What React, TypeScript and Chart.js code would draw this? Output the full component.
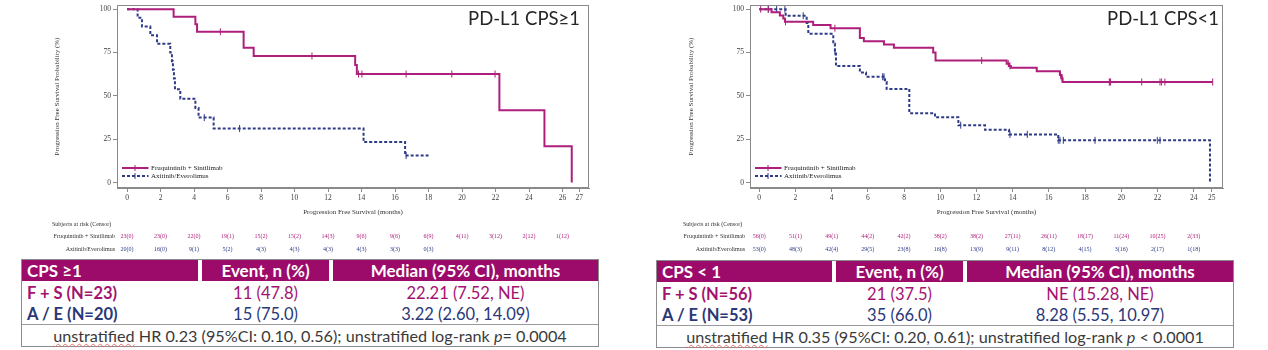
import React, { useEffect, useRef } from 'react';
import { Chart, registerables } from 'chart.js';
Chart.register(...registerables);

// ---------- Data: CPS >= 1 ----------
const leftFsTimes = [0, 2.78, 4.08, 4.18, 6.96, 7.56, 13.62, 13.72, 22.23, 24.92, 26.55];
const leftFsSurv = [100, 95.65, 91.3, 86.96, 77.8, 73.0, 67.8, 62.6, 41.7, 20.9, 0];
const leftFsCensor = [5.57, 11.04, 13.82, 14.02, 16.66, 19.39, 21.97];
const leftAeTimes = [0, 0.63, 0.89, 1.39, 1.79, 2.58, 2.68, 2.74, 2.8, 2.86, 3.18, 4.08, 4.27, 5.17, 14.12, 16.6, 18.0];
const leftAeSurv = [100, 95, 90, 85, 80, 75, 70, 65, 60, 53.8, 48.3, 43, 37.5, 31.2, 23.4, 15.6, 15.6];
const leftAeCensor = [4.61, 6.72, 16.66];
const leftXTicks = [0, 2, 4, 6, 8, 10, 12, 14, 16, 18, 20, 22, 24, 26, 27];
const leftRiskFsTimes = [0, 2, 4, 6, 8, 10, 12, 14, 16, 18, 20, 22, 24, 26];
const leftRiskFs = ['23(0)', '23(0)', '22(0)', '19(1)', '15(2)', '15(2)', '14(3)', '9(6)', '9(6)', '6(9)', '4(11)', '3(12)', '2(12)', '1(12)'];
const leftRiskAeTimes = [0, 2, 4, 6, 8, 10, 12, 14, 16, 18];
const leftRiskAe = ['20(0)', '16(0)', '9(1)', '5(2)', '4(3)', '4(3)', '4(3)', '4(3)', '3(3)', '0(3)'];

// ---------- Data: CPS < 1 ----------
const rightFsTimes = [0, 0.68, 1.14, 1.33, 1.42, 2.98, 3.94, 5.56, 5.78, 6.89, 7.44, 9.61, 9.74, 13.67, 13.8, 13.9, 15.33, 16.61, 16.7, 16.76, 25.05];
const rightFsSurv = [100, 98.2, 96.4, 94.6, 92.7, 90.9, 89.0, 83.4, 81.5, 79.7, 77.8, 75.0, 70.4, 68.6, 67.3, 66.2, 64.2, 62.0, 60.0, 58.0, 58.0];
const rightFsCensor = [0.08, 0.5, 1.45, 4.18, 12.29, 13.76, 13.85, 16.65, 16.73, 19.34, 19.37, 19.41, 21.13, 22.14, 22.23, 22.41, 25.05];
const rightAeTimes = [0, 1.46, 2.62, 2.71, 4.09, 4.18, 4.24, 5.56, 5.9, 6.95, 7.04, 8.29, 9.71, 11.0, 12.47, 13.8, 16.52, 24.9];
const rightAeSurv = [100, 96.2, 92, 85.8, 80, 75.5, 67.2, 63.5, 61, 58, 54, 40, 37.7, 33.1, 30.5, 27.8, 24.4, 0];
const rightAeCensor = [0.5, 0.96, 1.42, 2.43, 4.18, 6.82, 6.89, 11.13, 13.85, 14.81, 16.52, 16.61, 16.8, 18.55, 21.99, 22.14];
const rightXTicks = [0, 2, 4, 6, 8, 10, 12, 14, 16, 18, 20, 22, 24, 25];
const rightRiskTimes = [0, 2, 4, 6, 8, 10, 12, 14, 16, 18, 20, 22, 24];
const rightRiskFs = ['56(0)', '51(1)', '49(1)', '44(2)', '42(2)', '38(2)', '38(2)', '27(11)', '26(11)', '18(17)', '11(24)', '10(25)', '2(33)'];
const rightRiskAe = ['53(0)', '48(3)', '42(4)', '29(5)', '23(8)', '16(8)', '13(9)', '9(11)', '8(12)', '4(15)', '3(16)', '2(17)', '1(18)'];

const yTicks = [0, 25, 50, 75, 100];
const seriesNames = ['Fruquintinib + Sintilimab', 'Axitinib/Everolimus'];

// ---------- Table data ----------
const leftHeaders = ['CPS \u22651', 'Event, n (%)', 'Median (95% CI), months'];
const leftRowLabels = ['F + S (N=23)', 'A / E (N=20)'];
const leftEvents = ['11 (47.8)', '15 (75.0)'];
const leftMedians = ['22.21 (7.52, NE)', '3.22 (2.60, 14.09)'];
const leftHR = 'HR 0.23 (95%CI: 0.10, 0.56); unstratified log-rank ';
const leftP = '= 0.0004';
const rightHeaders = ['CPS < 1', 'Event, n (%)', 'Median (95% CI), months'];
const rightRowLabels = ['F + S (N=56)', 'A / E (N=53)'];
const rightEvents = ['21 (37.5)', '35 (66.0)'];
const rightMedians = ['NE (15.28, NE)', '8.28 (5.55, 10.97)'];
const rightHR = 'HR 0.35 (95%CI: 0.20, 0.61); unstratified log-rank ';
const rightP = ' < 0.0001';

// ---------- Styles ----------
const MAG = '#AE1F7C';
const NAVY = '#2E3B87';
const AXIS = '#8a8a8a';
const HEAD_BG = '#9C0A6A';
const TXT_MAG = '#A3126F';
const TXT_NAVY = '#2A3878';
const SERIF = '"Liberation Serif", "DejaVu Serif", serif';
const SANS = 'Lato, "Open Sans", sans-serif';

function survAt(times: number[], surv: number[], t: number) {
  let v = surv[0];
  for (let i = 0; i < times.length; i++) if (times[i] <= t) v = surv[i];
  return v;
}

type Spec = {
  left: number; width: number; height: number; yAxisWidth: number; padRight: number;
  xMin: number; xMax: number; xTicks: number[];
  fsT: number[]; fsS: number[]; fsC: number[]; aeT: number[]; aeS: number[]; aeC: number[];
  title: string; titleInset: number; yTitleX: number;
  riskHeaderX: number; riskLabelRight: number;
  riskFsT: number[]; riskFs: string[]; riskAeT: number[]; riskAe: string[];
};

function makeConfig(s: Spec): any {
  const decor = {
    id: 'decor',
    afterDraw(chart: any) {
      const ctx = chart.ctx as CanvasRenderingContext2D;
      const { left, right, top, bottom } = chart.chartArea;
      const xs = chart.scales.x;
      ctx.save();
      // frame
      ctx.strokeStyle = AXIS; ctx.lineWidth = 1; ctx.setLineDash([]);
      ctx.strokeRect(Math.round(left) + 0.5, Math.round(top) + 0.5, Math.round(right - left) - 1, Math.round(bottom - top) - 1);
      // panel title
      ctx.fillStyle = '#262626'; ctx.font = `18.5px ${SANS}`; ctx.textAlign = 'right'; ctx.textBaseline = 'alphabetic';
      ctx.fillText(s.title, right - s.titleInset, 25);
      // axis titles
      ctx.fillStyle = '#333'; ctx.font = `7px ${SERIF}`; ctx.textAlign = 'center'; ctx.textBaseline = 'middle';
      ctx.fillText('Progression Free Survival (months)', (left + right) / 2, 212);
      ctx.save(); ctx.translate(s.yTitleX, (top + bottom) / 2); ctx.rotate(-Math.PI / 2);
      ctx.fillText('Progression Free Survival Probability (%)', 0, 0); ctx.restore();
      // legend
      const lx = left + 5, lx2 = lx + 26.5;
      const rows = [
        { label: seriesNames[0], color: MAG, dash: [] as number[], y: bottom - 20 },
        { label: seriesNames[1], color: NAVY, dash: [3, 2], y: bottom - 12 },
      ];
      rows.forEach(r => {
        ctx.strokeStyle = r.color; ctx.lineWidth = 2; ctx.setLineDash(r.dash);
        ctx.beginPath(); ctx.moveTo(lx, r.y); ctx.lineTo(lx2, r.y); ctx.stroke();
        ctx.setLineDash([]); ctx.lineWidth = 1;
        ctx.beginPath(); ctx.moveTo(lx + 13, r.y - 3); ctx.lineTo(lx + 13, r.y + 3); ctx.stroke();
        ctx.fillStyle = '#222'; ctx.font = `7px ${SERIF}`; ctx.textAlign = 'left'; ctx.textBaseline = 'middle';
        ctx.fillText(r.label, lx2 + 2.5, r.y);
      });
      // at-risk table
      ctx.font = `6px ${SERIF}`; ctx.textBaseline = 'middle';
      ctx.fillStyle = '#333'; ctx.textAlign = 'left';
      ctx.fillText('Subjects at risk (Censor)', s.riskHeaderX, 224);
      ctx.textAlign = 'right';
      ctx.fillText(seriesNames[0], s.riskLabelRight, 236.5);
      ctx.fillText(seriesNames[1], s.riskLabelRight, 249.5);
      ctx.textAlign = 'center';
      ctx.fillStyle = MAG;
      s.riskFsT.forEach((t, i) => ctx.fillText(s.riskFs[i], xs.getPixelForValue(t), 236.5));
      ctx.fillStyle = NAVY;
      s.riskAeT.forEach((t, i) => ctx.fillText(s.riskAe[i], xs.getPixelForValue(t), 249.5));
      ctx.restore();
    },
  };

  const tickFont = { family: SERIF, size: 7.5 };
  return {
    type: 'line',
    data: {
      datasets: [
        { data: s.fsT.map((t, i) => ({ x: t, y: s.fsS[i] })), borderColor: MAG, borderWidth: 2, stepped: 'before', pointRadius: 0, fill: false },
        { data: s.aeT.map((t, i) => ({ x: t, y: s.aeS[i] })), borderColor: NAVY, borderWidth: 2, borderDash: [3, 2], stepped: 'before', pointRadius: 0, fill: false },
        { data: s.fsC.map(t => ({ x: t, y: survAt(s.fsT, s.fsS, t) })), showLine: false, pointStyle: 'line', rotation: 90, pointRadius: 3.5, borderColor: MAG, backgroundColor: MAG, pointBorderWidth: 1 },
        { data: s.aeC.map(t => ({ x: t, y: survAt(s.aeT, s.aeS, t) })), showLine: false, pointStyle: 'line', rotation: 90, pointRadius: 3.5, borderColor: NAVY, backgroundColor: NAVY, pointBorderWidth: 1 },
      ],
    },
    options: {
      responsive: false,
      animation: false,
      devicePixelRatio: 1,
      layout: { padding: { left: 0, right: s.padRight, top: 3, bottom: 0 } },
      plugins: { legend: { display: false }, tooltip: { enabled: false }, title: { display: false } },
      scales: {
        x: {
          type: 'linear', min: s.xMin, max: s.xMax,
          afterBuildTicks: (sc: any) => { sc.ticks = s.xTicks.map(v => ({ value: v })); },
          afterFit: (sc: any) => { sc.height = 70; sc.paddingLeft = 0; sc.paddingRight = 0; },
          ticks: { autoSkip: false, maxRotation: 0, minRotation: 0, font: tickFont, color: '#404040', padding: 2, callback: (v: any) => String(v) },
          grid: { drawOnChartArea: false, drawTicks: true, tickLength: 4, color: AXIS, lineWidth: 1 },
          border: { display: true, color: AXIS, width: 1 },
        },
        y: {
          type: 'linear', min: -3.1, max: 102.4,
          afterBuildTicks: (sc: any) => { sc.ticks = yTicks.map(v => ({ value: v })); },
          afterFit: (sc: any) => { sc.width = s.yAxisWidth; sc.paddingTop = 0; sc.paddingBottom = 0; },
          ticks: { autoSkip: false, font: tickFont, color: '#404040', padding: 2, callback: (v: any) => String(v) },
          grid: { drawOnChartArea: false, drawTicks: true, tickLength: 4, color: AXIS, lineWidth: 1 },
          border: { display: true, color: AXIS, width: 1 },
        },
      },
    },
    plugins: [decor],
  };
}

function KMPanel({ spec }: { spec: Spec }) {
  const ref = useRef<HTMLCanvasElement>(null);
  useEffect(() => {
    const chart = new Chart(ref.current as HTMLCanvasElement, makeConfig(spec));
    return () => chart.destroy();
  }, []);
  return (
    <canvas ref={ref} width={spec.width} height={spec.height}
      style={{ position: 'absolute', left: spec.left, top: 0, width: spec.width, height: spec.height }} />
  );
}

type TSpec = {
  left: number; top: number; cols: number[]; gap: number; headers: string[];
  labels: string[]; events: string[]; medians: string[]; hr: string; p: string;
};

function SummaryTable({ t }: { t: TSpec }) {
  const W = t.cols[0] + t.cols[1] + t.cols[2] + 2 * t.gap;
  const x1 = t.cols[0] + t.gap, x2 = x1 + t.cols[1] + t.gap;
  const colX = [0, x1, x2];
  const rowColors = [TXT_MAG, TXT_NAVY];
  const rowTops = [22, 43];
  const rowH = [21, 21];
  const cell = (left: number, width: number, top: number, height: number, align: string, extra: any, content: any, key: string) => (
    <div key={key} style={{
      position: 'absolute', left, top, width, height, display: 'flex', alignItems: 'center',
      justifyContent: align === 'left' ? 'flex-start' : 'center', paddingLeft: align === 'left' ? 5 : 0,
      boxSizing: 'border-box', whiteSpace: 'nowrap', ...extra,
    }}>{content}</div>
  );
  return (
    <div style={{
      position: 'absolute', left: t.left, top: t.top, width: W + 2, height: 88,
      border: '1px solid #8c8c8c', boxSizing: 'border-box', fontFamily: SANS, background: '#fff',
    }}>
      {t.headers.map((h, i) => cell(colX[i], t.cols[i], 0, 21, i === 0 ? 'left' : 'center',
        { background: HEAD_BG, color: '#fff', fontWeight: 700, fontSize: 17 }, h, 'h' + i))}
      {t.labels.map((lab, r) => [
        cell(0, t.cols[0], rowTops[r], rowH[r], 'left', { color: rowColors[r], fontWeight: 700, fontSize: 16.5 }, lab, 'l' + r),
        cell(colX[1], t.cols[1], rowTops[r], rowH[r], 'center', { color: rowColors[r], fontSize: 16.5 }, t.events[r], 'e' + r),
        cell(colX[2], t.cols[2], rowTops[r], rowH[r], 'center', { color: rowColors[r], fontSize: 16.5 }, t.medians[r], 'm' + r),
      ])}
      <div style={{ position: 'absolute', left: 0, top: 64, width: W, height: 1, background: '#9a9a9a' }} />
      {cell(0, W, 65, 21, 'center', { color: '#3a3a3a', fontSize: 16.2 },
        <span>
          <span style={{ textDecoration: 'underline wavy #e07070', textDecorationThickness: 1, textUnderlineOffset: 1 }}>unstratified</span>
          {' ' + t.hr}<i>p</i>{t.p}
        </span>, 'f')}
    </div>
  );
}

const leftSpec: Spec = {
  left: 0, width: 620, height: 258, yAxisWidth: 117, padRight: 31,
  xMin: -0.6, xMax: 27.58, xTicks: leftXTicks,
  fsT: leftFsTimes, fsS: leftFsSurv, fsC: leftFsCensor, aeT: leftAeTimes, aeS: leftAeSurv, aeC: leftAeCensor,
  title: 'PD-L1 CPS\u22651', titleInset: 9, yTitleX: 57.5,
  riskHeaderX: 52, riskLabelRight: 115,
  riskFsT: leftRiskFsTimes, riskFs: leftRiskFs, riskAeT: leftRiskAeTimes, riskAe: leftRiskAe,
};

const rightSpec: Spec = {
  left: 640, width: 628, height: 258, yAxisWidth: 110, padRight: 45,
  xMin: -0.51, xMax: 25.62, xTicks: rightXTicks,
  fsT: rightFsTimes, fsS: rightFsSurv, fsC: rightFsCensor, aeT: rightAeTimes, aeS: rightAeSurv, aeC: rightAeCensor,
  title: 'PD-L1 CPS<1', titleInset: 4, yTitleX: 50.7,
  riskHeaderX: 43, riskLabelRight: 105,
  riskFsT: rightRiskTimes, riskFs: rightRiskFs, riskAeT: rightRiskTimes, riskAe: rightRiskAe,
};

const leftTable: TSpec = {
  left: 21, top: 259, cols: [176, 127, 265], gap: 4, headers: leftHeaders,
  labels: leftRowLabels, events: leftEvents, medians: leftMedians, hr: leftHR, p: leftP,
};
const rightTable: TSpec = {
  left: 656, top: 260, cols: [175, 127, 266], gap: 4, headers: rightHeaders,
  labels: rightRowLabels, events: rightEvents, medians: rightMedians, hr: rightHR, p: rightP,
};

export default function App() {
  return (
    <div style={{ position: 'absolute', left: 0, top: 0, width: 1268, height: 350, background: '#fff', overflow: 'hidden' }}>
      <KMPanel spec={leftSpec} />
      <KMPanel spec={rightSpec} />
      <SummaryTable t={leftTable} />
      <SummaryTable t={rightTable} />
    </div>
  );
}
